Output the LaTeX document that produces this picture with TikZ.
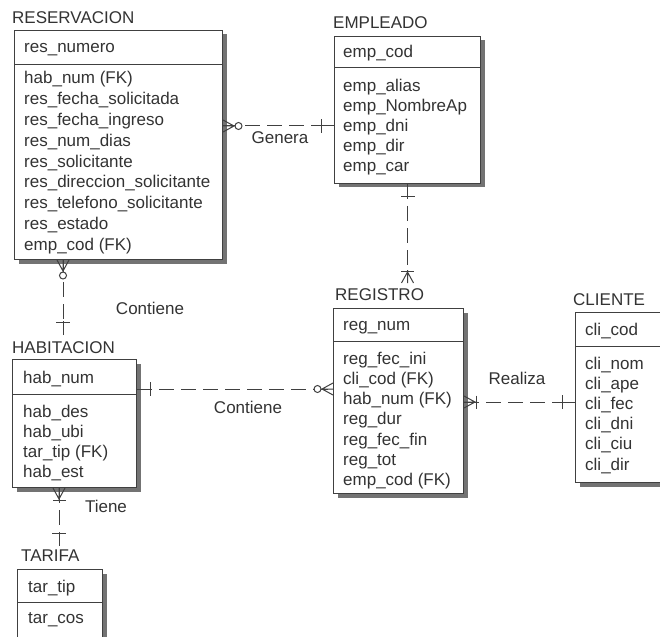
\documentclass[tikz,border=0pt]{standalone}
\usepackage{fontspec}
\setmainfont{Liberation Sans}
\usetikzlibrary{calc,shadows}

\tikzset{
  ink/.style={draw=black!75, line width=1pt},
  entbox/.style={ink, fill=white, anchor=north west, inner sep=0pt,
    drop shadow={shadow xshift=4pt, shadow yshift=-4pt, fill=black!55, opacity=1}},
  txt/.style={anchor=base west, inner sep=0pt, text=black!80,
    font=\fontsize{17}{20}\selectfont},
  lbl/.style={inner sep=0pt, text=black!80, font=\fontsize{17}{20}\selectfont},
  rel/.style={ink, dash pattern=on 15pt off 7pt},
  % zero or many: crow's foot with a circle
  pics/zeromany/.style={code={
    \draw[ink] (0,-6) -- (11,0) -- (0,6) (0,0) -- (12,0);
    \draw[ink, fill=white] (15.5,0) circle[radius=3.5];
  }},
  % one or many: crow's foot with a bar
  pics/onemany/.style={code={
    \draw[ink] (0,-6) -- (11,0) -- (0,6) (0,0) -- (13,0);
    \draw[ink] (12,-6.5) -- (12,6.5);
  }},
  % exactly one: single bar
  pics/onebar/.style={code={
    \draw[ink] (0,0) -- (14,0) (13,-7) -- (13,7);
  }}
}

\begin{document}
\begin{tikzpicture}[x=1pt, y=-1pt]
\useasboundingbox (0,0) rectangle (660,636);
\fill[white] (0,0) rectangle (660,636);
\clip (0,0) rectangle (660,636);

% ---------- RESERVACION ----------
\node[entbox, minimum width=208pt, minimum height=229pt] (res) at (14,30) {};
\draw[ink] ($(res.north west)+(0,35)$) -- ($(res.north east)+(0,35)$);
\node[txt] (res-t) at ($(res.north west)+(-2,-6)$) {RESERVACION};
\node[txt] (res-k) at ($(res.north west)+(10,23)$) {res\_numero};
\foreach \t [count=\i from 0] in {hab\_num (FK), res\_fecha\_solicitada, res\_fecha\_ingreso,
    res\_num\_dias, res\_solicitante, res\_direccion\_solicitante,
    res\_telefono\_solicitante, res\_estado, emp\_cod (FK)}
  \node[txt] (res-a\i) at ($(res.north west)+(10,54+\i*20.8)$) {\t};

% ---------- EMPLEADO ----------
\node[entbox, minimum width=146pt, minimum height=147pt] (emp) at (334,36) {};
\draw[ink] ($(emp.north west)+(0,32)$) -- ($(emp.north east)+(0,32)$);
\node[txt] (emp-t) at ($(emp.north west)+(-1,-7)$) {EMPLEADO};
\node[txt] (emp-k) at ($(emp.north west)+(9,22)$) {emp\_cod};
\foreach \t [count=\i from 0] in {emp\_alias, emp\_NombreAp, emp\_dni, emp\_dir, emp\_car}
  \node[txt] (emp-a\i) at ($(emp.north west)+(9,56+\i*19.8)$) {\t};

% ---------- REGISTRO ----------
\node[entbox, minimum width=130pt, minimum height=185pt] (reg) at (333,308) {};
\draw[ink] ($(reg.north west)+(0,33)$) -- ($(reg.north east)+(0,33)$);
\node[txt] (reg-t) at ($(reg.north west)+(2,-8)$) {REGISTRO};
\node[txt] (reg-k) at ($(reg.north west)+(10,22)$) {reg\_num};
\foreach \t [count=\i from 0] in {reg\_fec\_ini, cli\_cod (FK), hab\_num (FK), reg\_dur,
    reg\_fec\_fin, reg\_tot, emp\_cod (FK)}
  \node[txt] (reg-a\i) at ($(reg.north west)+(10,56+\i*20.3)$) {\t};

% ---------- CLIENTE ----------
\node[entbox, minimum width=130pt, minimum height=170pt] (cli) at (575,312) {};
\draw[ink] ($(cli.north west)+(0,34)$) -- ($(cli.north east)+(0,34)$);
\node[txt] (cli-t) at ($(cli.north west)+(-2,-7)$) {CLIENTE};
\node[txt] (cli-k) at ($(cli.north west)+(10,23)$) {cli\_cod};
\foreach \t [count=\i from 0] in {cli\_nom, cli\_ape, cli\_fec, cli\_dni, cli\_ciu, cli\_dir}
  \node[txt] (cli-a\i) at ($(cli.north west)+(10,57+\i*20.2)$) {\t};

% ---------- HABITACION ----------
\node[entbox, minimum width=124pt, minimum height=128pt] (hab) at (12,359) {};
\draw[ink] ($(hab.north west)+(0,35)$) -- ($(hab.north east)+(0,35)$);
\node[txt] (hab-t) at ($(hab.north west)+(0,-6)$) {HABITACION};
\node[txt] (hab-k) at ($(hab.north west)+(11,24)$) {hab\_num};
\foreach \t [count=\i from 0] in {hab\_des, hab\_ubi, tar\_tip (FK), hab\_est}
  \node[txt] (hab-a\i) at ($(hab.north west)+(11,58+\i*20)$) {\t};

% ---------- TARIFA ----------
\node[entbox, minimum width=85pt, minimum height=75pt] (tar) at (17,569) {};
\draw[ink] ($(tar.north west)+(0,33)$) -- ($(tar.north east)+(0,33)$);
\node[txt] (tar-t) at ($(tar.north west)+(4,-8)$) {TARIFA};
\node[txt] (tar-k) at ($(tar.north west)+(11,23)$) {tar\_tip};
\node[txt] (tar-a0) at ($(tar.north west)+(11,54)$) {tar\_cos};

% ---------- relationship end points ----------
\coordinate (gen-a) at ($(res.north east)+(0,96)$);
\coordinate (gen-b) at ($(emp.north west)+(0,90)$);
\coordinate (er-a)  at (emp.south);
\coordinate (er-b)  at ($(emp.south)+(0,99)$);
\coordinate (rh-a)  at ($(res.south west)+(49,0)$);
\coordinate (rh-b)  at ($(hab.north west)+(51,-24)$);
\coordinate (hr-a)  at ($(hab.north east)+(0,30)$);
\coordinate (hr-b)  at ($(reg.north west)+(0,81)$);
\coordinate (rc-a)  at ($(reg.north east)+(0,94)$);
\coordinate (rc-b)  at ($(cli.north west)+(0,90)$);
\coordinate (ht-a)  at ($(hab.south west)+(47,0)$);
\coordinate (ht-b)  at ($(hab.south west)+(47,58)$);

% ---------- relationships ----------
% Genera
\draw[rel] (gen-a) -- (gen-b);
\pic at (gen-a) {zeromany};
\pic[rotate=180] at (gen-b) {onebar};
\node[lbl] (gen-l) at (280,138) {Genera};

% EMPLEADO - REGISTRO
\draw[rel] (er-a) -- (er-b);
\pic[rotate=-90] at (er-a) {onebar};
\pic[rotate=90] at (er-b) {onemany};

% Contiene (RESERVACION - HABITACION)
\draw[rel] (rh-a) -- (rh-b);
\pic[rotate=-90] at (rh-a) {zeromany};
\pic[rotate=90] at (rh-b) {onebar};
\node[lbl] (rh-l) at (150,308) {Contiene};

% Contiene (HABITACION - REGISTRO)
\draw[rel] (hr-a) -- (hr-b);
\pic at (hr-a) {onebar};
\pic[rotate=180] at (hr-b) {zeromany};
\node[lbl] (hr-l) at (248,407) {Contiene};

% Realiza
\draw[rel] (rc-a) -- (rc-b);
\pic at (rc-a) {onemany};
\pic[rotate=180] at (rc-b) {onebar};
\node[lbl] (rc-l) at (517,378) {Realiza};

% Tiene
\draw[rel] (ht-a) -- (ht-b);
\pic[rotate=-90] at (ht-a) {onemany};
\pic[rotate=90] at (ht-b) {onebar};
\node[lbl] (ht-l) at (106,506) {Tiene};
\end{tikzpicture}
\end{document}
